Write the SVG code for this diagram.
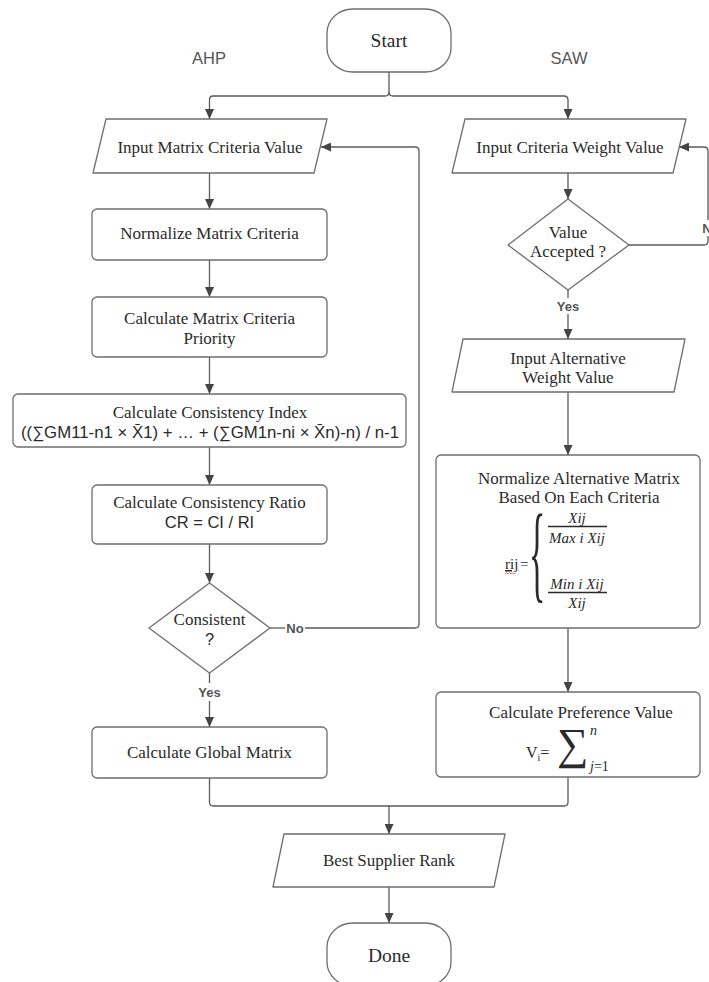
<svg xmlns="http://www.w3.org/2000/svg" width="709" height="982" viewBox="0 0 709 982">
<style>
.bg{fill:#fff}
.shape{fill:#fff;stroke:#6e6e6e;stroke-width:1.3;stroke-linejoin:round}
.conn{fill:none;stroke:#5a5a5a;stroke-width:1.3}
.serif{font-family:"Liberation Serif","Times New Roman",serif;font-size:17px;fill:#2a2a2a;text-anchor:middle;dominant-baseline:central}
.sans{font-family:"Liberation Sans",Arial,sans-serif;font-size:16.5px;fill:#2a2a2a;text-anchor:middle;dominant-baseline:central}
.lane{font-family:"Liberation Sans",Arial,sans-serif;font-size:16.5px;fill:#555;text-anchor:middle;dominant-baseline:central}
.lbl{font-family:"Liberation Sans",Arial,sans-serif;font-size:13px;font-weight:bold;fill:#555;text-anchor:middle;dominant-baseline:central}
.math{font-family:"Liberation Serif","DejaVu Serif",serif;font-style:italic;font-size:15px;fill:#2a2a2a;text-anchor:middle;dominant-baseline:central}
.big{font-size:19.5px}
</style>
<defs>
<marker id="arr" markerUnits="userSpaceOnUse" markerWidth="10" markerHeight="9" refX="10" refY="4.5" orient="auto">
<path d="M0,0 L10,4.5 L0,9 z" fill="#444"/>
</marker>
</defs>
<rect class="bg" x="0" y="0" width="709" height="982"/>

<text class="lane" x="209" y="58">AHP</text>
<text class="lane" x="569" y="58">SAW</text>

<g id="connectors">
<path class="conn" d="M389,72 V92 Q389,96 385,96 H213 Q209.5,96 209.5,100 V119" marker-end="url(#arr)"/>
<path class="conn" d="M389,92 Q389,96 393,96 H564 Q568,96 568,100 V119" marker-end="url(#arr)"/>
<path class="conn" d="M209.5,173 V209" marker-end="url(#arr)"/>
<path class="conn" d="M209.5,260 V297" marker-end="url(#arr)"/>
<path class="conn" d="M209.5,357 V394" marker-end="url(#arr)"/>
<path class="conn" d="M209.5,447 V485" marker-end="url(#arr)"/>
<path class="conn" d="M209.5,544 V583" marker-end="url(#arr)"/>
<path class="conn" d="M209.5,673 V683"/>
<path class="conn" d="M209.5,701 V727" marker-end="url(#arr)"/>
<path class="conn" d="M270,628 H285"/>
<path class="conn" d="M305,628 H415 Q419,628 419,624 V151 Q419,147 415,147 H321" marker-end="url(#arr)"/>
<path class="conn" d="M568,173 V199" marker-end="url(#arr)"/>
<path class="conn" d="M568,290 V298"/>
<path class="conn" d="M568,314 V339" marker-end="url(#arr)"/>
<path class="conn" d="M629,245 H704 Q708,245 708,241 V236"/>
<path class="conn" d="M708,220 V151 Q708,147 704,147 H679" marker-end="url(#arr)"/>
<path class="conn" d="M568,392 V455" marker-end="url(#arr)"/>
<path class="conn" d="M568,628 V692" marker-end="url(#arr)"/>
<path class="conn" d="M209.5,778 V802 Q209.5,806 213.5,806 H564 Q568,806 568,802 V777"/>
<path class="conn" d="M389,806 V834" marker-end="url(#arr)"/>
<path class="conn" d="M389,887 V923" marker-end="url(#arr)"/>
<text class="lbl" x="209.5" y="692">Yes</text>
<text class="lbl" x="295" y="628">No</text>
<text class="lbl" x="568" y="306">Yes</text>
<text class="lbl" x="711" y="228">No</text>
</g>

<g id="start">
<rect class="shape" x="327" y="9" width="124" height="63" rx="26" ry="24"/>
<text class="serif big" x="389" y="40">Start</text>
</g>

<g id="input-matrix-criteria">
<polygon class="shape" points="106,119 327,119 314,173 93,173"/>
<text class="serif" x="210" y="147">Input Matrix Criteria Value</text>
</g>

<g id="normalize-matrix-criteria">
<rect class="shape" x="92" y="209" width="235" height="51" rx="5"/>
<text class="serif" x="209.5" y="233">Normalize Matrix Criteria</text>
</g>

<g id="criteria-priority">
<rect class="shape" x="92" y="297" width="235" height="60" rx="5"/>
<text class="serif" x="209.5" y="318">Calculate Matrix Criteria</text>
<text class="serif" x="209.5" y="338">Priority</text>
</g>

<g id="consistency-index">
<rect class="shape" x="13" y="394" width="393" height="53" rx="5"/>
<text class="serif" x="210" y="412">Calculate Consistency Index</text>
<text class="sans" x="210" y="432" style="font-size:16.8px">((∑GM11-n1 × X&#x304;1) + … + (∑GM1n-ni × X&#x304;n)-n) / n-1</text>
</g>

<g id="consistency-ratio">
<rect class="shape" x="92" y="485" width="235" height="59" rx="5"/>
<text class="serif" x="209.5" y="502">Calculate Consistency Ratio</text>
<text class="sans" x="209.5" y="522">CR = CI / RI</text>
</g>

<g id="consistent">
<polygon class="shape" points="209.5,583 270,628 209.5,673 149,628"/>
<text class="serif" x="209.5" y="619">Consistent</text>
<text class="sans" x="209.5" y="639">?</text>
</g>

<g id="global-matrix">
<rect class="shape" x="92" y="727" width="235" height="51" rx="5"/>
<text class="serif" x="209.5" y="752">Calculate Global Matrix</text>
</g>

<g id="input-criteria-weight">
<polygon class="shape" points="465,119 686,119 673,173 452,173"/>
<text class="serif" x="570" y="147">Input Criteria Weight Value</text>
</g>

<g id="value-accepted">
<polygon class="shape" points="568,199 629,245 568,290 508,245"/>
<text class="serif" x="568" y="232">Value</text>
<text class="serif" x="568" y="251">Accepted ?</text>
</g>

<g id="input-alternative-weight">
<polygon class="shape" points="463,339 685,339 674,392 452,392"/>
<text class="serif" x="568" y="358">Input Alternative</text>
<text class="serif" x="568" y="377">Weight Value</text>
</g>

<g id="normalize-alternative">
<rect class="shape" x="436" y="455" width="264" height="173" rx="5"/>
<text class="serif" x="579" y="478">Normalize Alternative Matrix</text>
<text class="serif" x="579" y="497">Based On Each Criteria</text>
<text class="math" x="577" y="518">Xij</text>
<line x1="548" y1="526.5" x2="607" y2="526.5" stroke="#2a2a2a" stroke-width="1.3"/>
<text class="math" x="577" y="538">Max i  Xij</text>
<text class="math" x="577" y="584">Min i  Xij</text>
<line x1="548" y1="592.5" x2="607" y2="592.5" stroke="#2a2a2a" stroke-width="1.3"/>
<text class="math" x="577" y="603">Xij</text>
<text x="505" y="569" style="font-family:'Liberation Serif',serif;font-size:15px;fill:#2a2a2a;text-decoration:underline">rij</text>
<path d="M505,574 l1.5,-1.2 l1.5,1.2 l1.5,-1.2 l1.5,1.2 l1.5,-1.2 l1.5,1.2 l1.5,-1.2" fill="none" stroke="#d04040" stroke-width="0.8"/>
<text x="520" y="569" style="font-family:'Liberation Serif',serif;font-size:15px;fill:#2a2a2a">=</text>
<text x="529" y="184" transform="scale(1,3.2)" style="font-family:'Liberation Serif',serif;font-size:34px;fill:#2a2a2a">{</text>
</g>

<g id="preference-value">
<rect class="shape" x="436" y="692" width="264" height="85" rx="5"/>
<text class="serif" x="581" y="712">Calculate Preference Value</text>
<text x="526" y="758" style="font-family:'Liberation Serif',serif;font-size:16px;fill:#2a2a2a">V<tspan dy="3" font-size="10">i</tspan><tspan dy="-3">=</tspan></text>
<text x="557" y="759" style="font-family:'Liberation Serif','DejaVu Serif',serif;font-size:44px;fill:#2a2a2a">∑</text>
<text x="590" y="735" style="font-family:'Liberation Serif',serif;font-style:italic;font-size:14px;fill:#2a2a2a">n</text>
<text x="590" y="771" style="font-family:'Liberation Serif',serif;font-size:14px;fill:#2a2a2a"><tspan font-style="italic">j</tspan>=1</text>
</g>

<g id="best-supplier-rank">
<polygon class="shape" points="284,834 505,834 494,887 273,887"/>
<text class="serif" x="389" y="860">Best Supplier Rank</text>
</g>

<g id="done">
<rect class="shape" x="327" y="923" width="124" height="63" rx="26" ry="24"/>
<text class="serif big" x="389" y="955">Done</text>
</g>
</svg>
